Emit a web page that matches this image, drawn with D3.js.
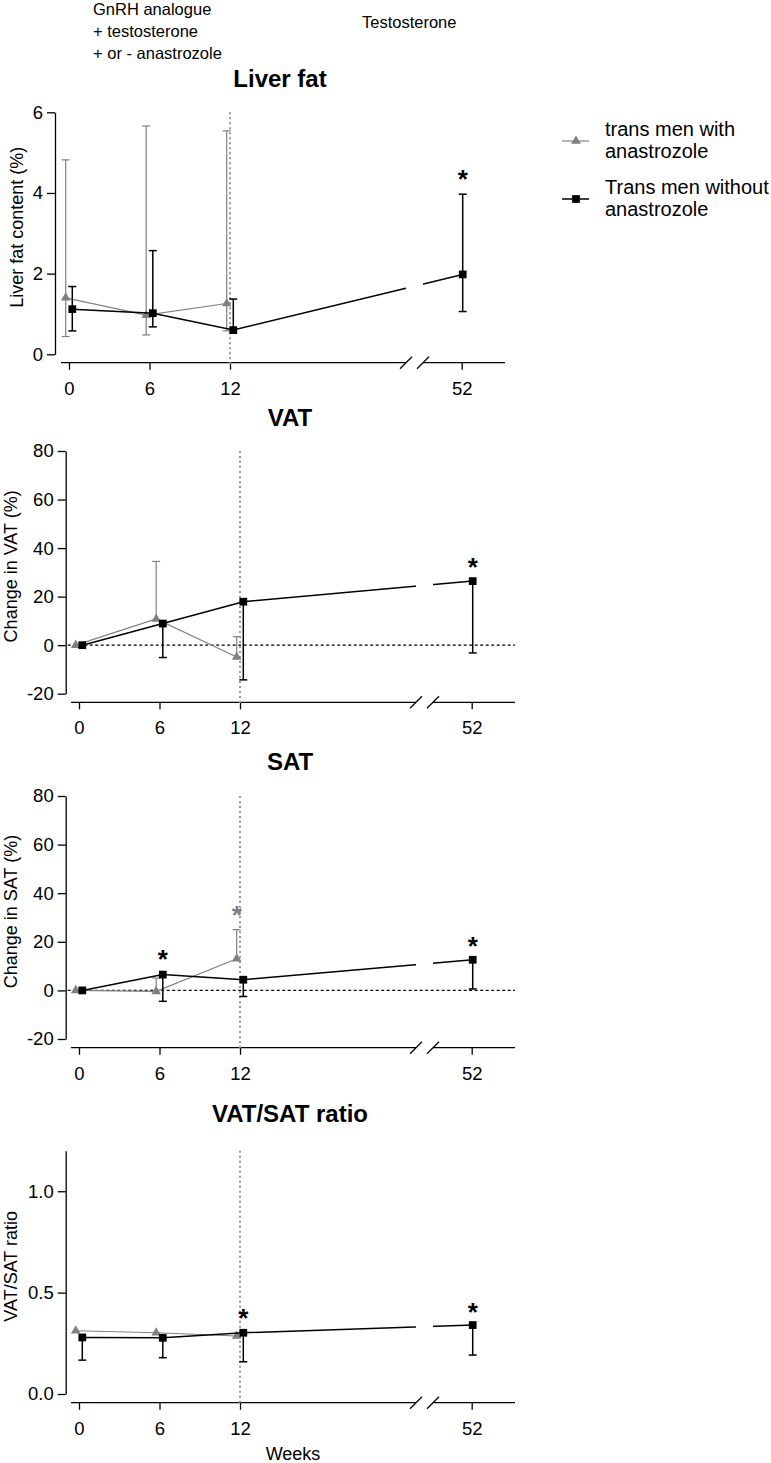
<!DOCTYPE html>
<meta charset="utf-8">
<style>
body { margin: 0; background: #fff; }
svg { font-family: Arial, "Liberation Sans", sans-serif; background: #fff; }
.axis path, .axis line { fill: none; stroke: #000; stroke-width: 1.3px; }
.axis text { font-family: Arial, "Liberation Sans", sans-serif; font-size: 18.5px; fill: #000; }
.xline { stroke: #000; stroke-width: 1.3px; }
.title { font-size: 24px; font-weight: bold; text-anchor: middle; }
.ylabel { font-size: 18px; text-anchor: middle; }
.header { font-size: 16.5px; }
.legend { font-size: 20px; }
.zero { stroke: #000; stroke-width: 1.2px; stroke-dasharray: 3,2.5; }
.switch { stroke: #999; stroke-width: 2px; stroke-dasharray: 2,3; }
.star { font-size: 26px; font-weight: bold; text-anchor: middle; }
</style>
<body>
<script src="https://d3js.org/d3.v7.min.js"></script>
<script>

var weeks = [0, 6, 12, 52];
var weeksWith = [0, 6, 12];

var seriesNames = ["trans men with\nanastrozole", "Trans men without\nanastrozole"];
var seriesColors = ["#808080", "#000000"];

// Liver fat content (%)
var liverWithMean = [1.40, 0.97, 1.26];
var liverWithHi = [4.82, 5.66, 5.54];
var liverWithLo = [0.44, 0.48, 0.58];
var liverWithoutMean = [1.12, 1.02, 0.60, 1.98];
var liverWithoutHi = [1.68, 2.57, 1.37, 3.97];
var liverWithoutLo = [0.58, 0.68, 0.60, 1.06];

// Change in VAT (%)
var vatWithMean = [0, 10.8, -4.9];
var vatWithHi = [0, 34.5, 3.5];
var vatWithoutMean = [0, 8.9, 17.9, 26.4];
var vatWithoutLo = [0, -5.1, -14.3, -3.2];

// Change in SAT (%)
var satWithMean = [0, -0.4, 13.0];
var satWithHi = [0, 5.1, 25.0];
var satWithoutMean = [0, 6.5, 4.4, 12.6];
var satWithoutLo = [0, -4.5, -2.5, 0.6];

// VAT/SAT ratio
var ratioWithMean = [0.312, 0.302, 0.286];
var ratioWithoutMean = [0.279, 0.277, 0.302, 0.340];
var ratioWithoutLo = [0.167, 0.179, 0.159, 0.192];

// significance stars: [series, week, y position in data units]
var liverStars = [[1, 52, 4.5]];
var vatStars = [[1, 52, 34.5]];
var satStars = [[1, 6, 15.4], [0, 12, 33.5], [1, 52, 20.9]];
var ratioStars = [[1, 12, 0.405], [1, 52, 0.435]];

var liverTicks = [0, 2, 4, 6];
var changeTicks = [-20, 0, 20, 40, 60, 80];
var ratioTicks = [0, 0.5, 1.0];

var panels = [
	{title: "Liver fat", ylab: "Liver fat content (%)", domain: [0, 6], ticks: liverTicks, fmt: function(d) { return String(d); },
	 top: 112.3, bottom: 354.3, xaxis: 362.7, x0: 69, yx: 55, titleY: 87, labX: 17, zero: false,
	 with: [liverWithMean, liverWithLo, liverWithHi], without: [liverWithoutMean, liverWithoutLo, liverWithoutHi], stars: liverStars},
	{title: "VAT", ylab: "Change in VAT (%)", domain: [-20, 80], ticks: changeTicks, fmt: function(d) { return String(d); },
	 top: 451, bottom: 693.7, xaxis: 702.3, x0: 79, yx: 65.7, titleY: 426, labX: 11, zero: true,
	 with: [vatWithMean, null, vatWithHi], without: [vatWithoutMean, vatWithoutLo, null], stars: vatStars},
	{title: "SAT", ylab: "Change in SAT (%)", domain: [-20, 80], ticks: changeTicks, fmt: function(d) { return String(d); },
	 top: 796, bottom: 1039, xaxis: 1047.7, x0: 79, yx: 65.7, titleY: 770, labX: 11, zero: true,
	 with: [satWithMean, null, satWithHi], without: [satWithoutMean, satWithoutLo, null], stars: satStars},
	{title: "VAT/SAT ratio", ylab: "VAT/SAT ratio", domain: [0, 1.2], ticks: ratioTicks, fmt: d3.format(".1f"),
	 top: 1150.7, bottom: 1394, xaxis: 1402.7, x0: 79, yx: 65.7, titleY: 1122, labX: 11, zero: false,
	 with: [ratioWithMean, null, null], without: [ratioWithoutMean, ratioWithoutLo, null], stars: ratioStars}
];

var svg = d3.select("body").append("svg")
	.attr("width", 771)
	.attr("height", 1463);

// header
var head = svg.append("g").attr("class", "header");
head.append("text").attr("x", 93).attr("y", 15).text("GnRH analogue");
head.append("text").attr("x", 93).attr("y", 37).text("+ testosterone");
head.append("text").attr("x", 93).attr("y", 59).text("+ or - anastrozole");
head.append("text").attr("x", 362).attr("y", 28).text("Testosterone");

// legend
var legendY = [141, 199];
var leg = svg.append("g").attr("class", "legend");
seriesNames.forEach(function(name, i) {
	leg.append("line")
		.attr("x1", 562).attr("x2", 589)
		.attr("y1", legendY[i]).attr("y2", legendY[i])
		.attr("stroke", seriesColors[i]).attr("stroke-width", i ? 1.5 : 1.2);
	leg.append("path")
		.attr("transform", "translate(576," + legendY[i] + ")")
		.attr("d", d3.symbol().type(i ? d3.symbolSquare : d3.symbolTriangle).size(i ? 60 : 40)())
		.attr("fill", seriesColors[i]);
	name.split("\n").forEach(function(line, j) {
		leg.append("text")
			.attr("x", 605)
			.attr("y", legendY[i] - 5 + j * 22)
			.text(line);
	});
});

panels.forEach(function(p, pi) {
	var g = svg.append("g");

	var x = d3.scaleLinear()
		.domain([0, 12, 52])
		.range([p.x0, p.x0 + 161, p.x0 + 392.7]);
	var y = d3.scaleLinear()
		.domain(p.domain)
		.range([p.bottom, p.top]);

	var breakA = p.x0 + 337, breakB = p.x0 + 354;

	g.append("text")
		.attr("class", "title")
		.attr("x", p.x0 + 211)
		.attr("y", p.titleY)
		.text(p.title);

	g.append("text")
		.attr("class", "ylabel")
		.attr("transform", "translate(" + p.labX + "," + ((p.top + p.bottom) / 2 - 6) + ") rotate(-90)")
		.attr("dy", "0.35em")
		.text(p.ylab);

	g.append("g")
		.attr("class", "y axis")
		.attr("transform", "translate(" + p.yx + ",0)")
		.call(d3.axisLeft(y).tickValues(p.ticks).tickFormat(p.fmt).tickSize(8).tickPadding(4).tickSizeOuter(0));

	var xa = g.append("g")
		.attr("class", "x axis")
		.attr("transform", "translate(0," + p.xaxis + ")")
		.call(d3.axisBottom(x).tickValues(weeks).tickSize(7).tickPadding(12).tickSizeOuter(0));
	xa.select(".domain").remove();

	// broken x axis
	g.append("line").attr("class", "xline")
		.attr("x1", p.x0 - 8).attr("x2", breakA)
		.attr("y1", p.xaxis).attr("y2", p.xaxis);
	g.append("line").attr("class", "xline")
		.attr("x1", breakB).attr("x2", p.x0 + 436)
		.attr("y1", p.xaxis).attr("y2", p.xaxis);
	[breakA, breakB].forEach(function(bx) {
		g.append("line").attr("class", "xline")
			.attr("x1", bx - 6).attr("x2", bx + 6)
			.attr("y1", p.xaxis + 6).attr("y2", p.xaxis - 6);
	});

	if (p.zero) {
		g.append("line")
			.attr("class", "zero")
			.attr("x1", p.yx + 2).attr("x2", p.x0 + 436)
			.attr("y1", y(0)).attr("y2", y(0));
	}

	g.append("line")
		.attr("class", "switch")
		.attr("x1", x(12)).attr("x2", x(12))
		.attr("y1", p.top).attr("y2", p.xaxis + 2);

	// clip so the connecting line breaks at the axis break
	var clipId = "clip" + pi;
	var clip = svg.append("clipPath").attr("id", clipId);
	clip.append("rect").attr("x", 0).attr("y", 0).attr("width", breakA).attr("height", 1463);
	clip.append("rect").attr("x", breakB).attr("y", 0).attr("width", 771 - breakB).attr("height", 1463);

	var sets = [
		{wk: weeksWith, vals: p.with, s: 0},
		{wk: weeks, vals: p.without, s: 1}
	];

	function px(s, wk) {
		if (wk > 12) return x(wk) + 1;
		return x(wk) + (s ? 3.3 : -3.3);
	}

	sets.forEach(function(set) {
		var col = seriesColors[set.s];
		var sw = set.s ? 1.5 : 1.2;
		var pts = set.wk.map(function(w, i) {
			return {w: w, m: set.vals[0][i],
				lo: set.vals[1] ? set.vals[1][i] : set.vals[0][i],
				hi: set.vals[2] ? set.vals[2][i] : set.vals[0][i]};
		});
		var sg = g.append("g");

		// error bars
		pts.forEach(function(d) {
			var cx = px(set.s, d.w);
			if (d.hi > d.m || d.lo < d.m) {
				sg.append("line")
					.attr("x1", cx).attr("x2", cx)
					.attr("y1", y(d.hi)).attr("y2", y(d.lo))
					.attr("stroke", col).attr("stroke-width", sw);
			}
			[[d.hi, d.hi > d.m], [d.lo, d.lo < d.m]].forEach(function(c) {
				if (!c[1]) return;
				sg.append("line")
					.attr("x1", cx - 4).attr("x2", cx + 4)
					.attr("y1", y(c[0])).attr("y2", y(c[0]))
					.attr("stroke", col).attr("stroke-width", sw);
			});
		});

		sg.append("path")
			.datum(pts)
			.attr("clip-path", "url(#" + clipId + ")")
			.attr("fill", "none")
			.attr("stroke", col)
			.attr("stroke-width", sw)
			.attr("d", d3.line()
				.x(function(d) { return px(set.s, d.w); })
				.y(function(d) { return y(d.m); }));

		sg.selectAll(".pt")
			.data(pts)
			.enter().append("path")
			.attr("transform", function(d) { return "translate(" + px(set.s, d.w) + "," + y(d.m) + ")"; })
			.attr("d", d3.symbol().type(set.s ? d3.symbolSquare : d3.symbolTriangle).size(set.s ? 60 : 40)())
			.attr("fill", col);
	});

	g.selectAll(".star")
		.data(p.stars)
		.enter().append("text")
		.attr("class", "star")
		.attr("x", function(d) { return px(d[0], d[1]); })
		.attr("y", function(d) { return y(d[2]) + 15; })
		.attr("fill", function(d) { return seriesColors[d[0]]; })
		.text("*");

	if (pi === panels.length - 1) {
		g.append("text")
			.attr("x", p.x0 + 214)
			.attr("y", 1460)
			.attr("text-anchor", "middle")
			.style("font-size", "18px")
			.text("Weeks");
	}
});

</script>
